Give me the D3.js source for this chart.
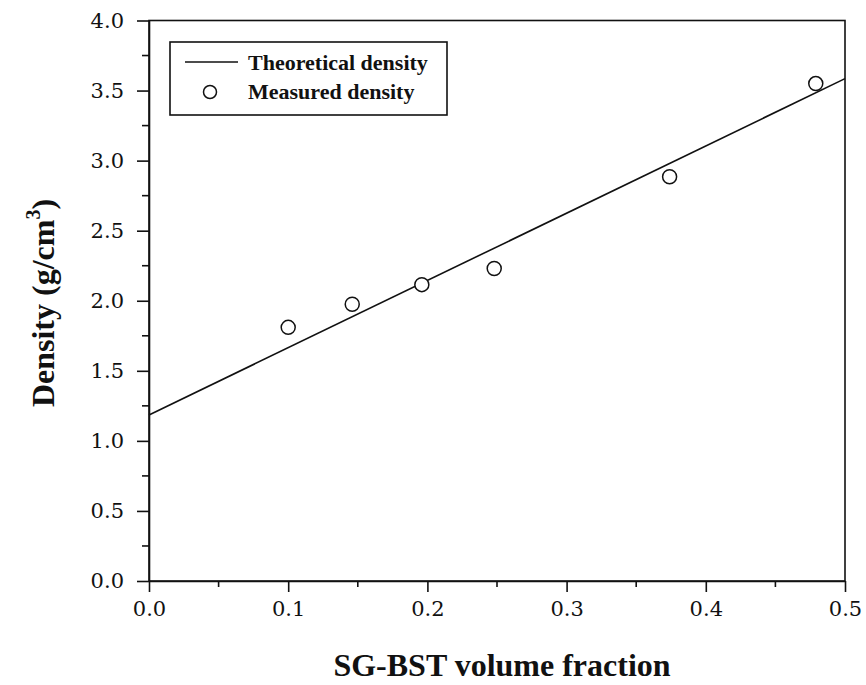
<!DOCTYPE html>
<html><head><meta charset="utf-8">
<script src="https://cdn.jsdelivr.net/npm/d3@7"></script>
<style>body{margin:0;background:#fff}</style>
</head><body>
<script>
const measuredX = [0.100, 0.146, 0.196, 0.248, 0.374, 0.479];
const measuredY = [1.81, 1.975, 2.115, 2.23, 2.885, 3.55];
const theoryX = [0.0, 0.5];
const theoryY = [1.185, 3.585];
const xTicks = [0.0, 0.1, 0.2, 0.3, 0.4, 0.5];
const yTicks = [0.0, 0.5, 1.0, 1.5, 2.0, 2.5, 3.0, 3.5, 4.0];
const xMinor = [0.05, 0.15, 0.25, 0.35, 0.45];
const yMinor = [0.25, 0.75, 1.25, 1.75, 2.25, 2.75, 3.25, 3.75];
const legendLabels = ["Theoretical density", "Measured density"];

const W = 866, H = 685;
const L = 149, R = 845, T = 20.5, B = 581;
const svg = d3.select("body").append("svg").attr("width", W).attr("height", H);
const x = d3.scaleLinear().domain([0, 0.5]).range([L, R]);
const y = d3.scaleLinear().domain([0, 4]).range([B, T]);
const tickFont = "'DejaVu Serif', 'Liberation Serif', serif";
const boldFont = "'Liberation Serif', 'Times New Roman', serif";

// frame
svg.append("rect").attr("x", L).attr("y", T).attr("width", R - L).attr("height", B - T)
  .attr("fill", "none").attr("stroke", "#111").attr("stroke-width", 1.6);

// axes
const xAxis = d3.axisBottom(x).tickValues(xTicks).tickFormat(d3.format(".1f")).tickSizeInner(11).tickSizeOuter(0).tickPadding(9);
const gx = svg.append("g").attr("transform", `translate(0,${B})`).call(xAxis);
gx.select(".domain").attr("stroke", "#111").attr("stroke-width", 1.6);
gx.selectAll(".tick line").attr("stroke", "#111").attr("stroke-width", 1.6);
gx.selectAll("text").attr("font-family", tickFont).attr("font-size", 21).attr("fill", "#111");
gx.selectAll(".minor").data(xMinor).enter().append("line")
  .attr("x1", d => x(d)).attr("x2", d => x(d)).attr("y1", 0).attr("y2", 6)
  .attr("stroke", "#111").attr("stroke-width", 1.6);

const yAxis = d3.axisLeft(y).tickValues(yTicks).tickFormat(d3.format(".1f")).tickSizeInner(12).tickSizeOuter(0).tickPadding(13);
const gy = svg.append("g").attr("transform", `translate(${L},0)`).call(yAxis);
gy.select(".domain").attr("stroke", "#111").attr("stroke-width", 1.6);
gy.selectAll(".tick line").attr("stroke", "#111").attr("stroke-width", 1.6);
gy.selectAll("text").attr("font-family", tickFont).attr("font-size", 21).attr("fill", "#111");
gy.selectAll(".minor").data(yMinor).enter().append("line")
  .attr("y1", d => y(d)).attr("y2", d => y(d)).attr("x1", 0).attr("x2", -7)
  .attr("stroke", "#111").attr("stroke-width", 1.6);

// theoretical line
const line = d3.line().x(d => x(d[0])).y(d => y(d[1]));
svg.append("path").datum(d3.zip(theoryX, theoryY)).attr("d", line)
  .attr("fill", "none").attr("stroke", "#111").attr("stroke-width", 1.6);

// measured points
svg.selectAll(".pt").data(d3.zip(measuredX, measuredY)).enter().append("circle")
  .attr("cx", d => x(d[0])).attr("cy", d => y(d[1])).attr("r", 7)
  .attr("fill", "#fff").attr("stroke", "#111").attr("stroke-width", 1.5);

// legend
const lg = svg.append("g");
lg.append("rect").attr("x", 170).attr("y", 42).attr("width", 277).attr("height", 73)
  .attr("fill", "#fff").attr("stroke", "#111").attr("stroke-width", 1.6);
lg.append("line").attr("x1", 185).attr("x2", 238).attr("y1", 62).attr("y2", 62)
  .attr("stroke", "#111").attr("stroke-width", 1.6);
lg.append("circle").attr("cx", 210).attr("cy", 92).attr("r", 6.5)
  .attr("fill", "#fff").attr("stroke", "#111").attr("stroke-width", 1.5);
lg.selectAll("text").data(legendLabels).enter().append("text")
  .attr("x", 248).attr("y", (d, i) => 70 + i * 29)
  .attr("font-family", boldFont).attr("font-weight", "bold").attr("font-size", 22)
  .attr("fill", "#111").text(d => d);

// axis titles
svg.append("text").attr("x", 502).attr("y", 676).attr("text-anchor", "middle")
  .attr("font-family", boldFont).attr("font-weight", "bold").attr("font-size", 32)
  .attr("fill", "#111").text("SG-BST volume fraction");
const yt = svg.append("text").attr("transform", "translate(54,303) rotate(-90)")
  .attr("text-anchor", "middle").attr("font-family", boldFont).attr("font-weight", "bold")
  .attr("font-size", 32).attr("fill", "#111");
yt.append("tspan").text("Density (g/cm");
yt.append("tspan").attr("dy", -14).attr("font-size", 20).text("3");
yt.append("tspan").attr("dy", 14).text(")");
</script>
</body></html>
